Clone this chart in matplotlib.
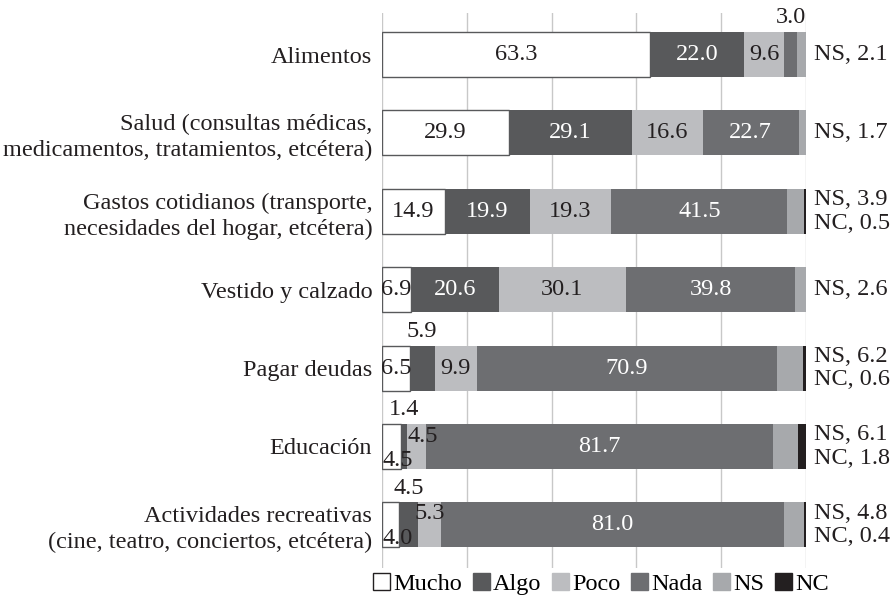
import matplotlib
matplotlib.use("Agg")
import matplotlib.pyplot as plt
from matplotlib.patches import Patch
import numpy as np

plt.rcParams["font.family"] = ["Liberation Serif", "DejaVu Serif"]

categories = [
    "Alimentos",
    "Salud (consultas médicas,\nmedicamentos, tratamientos, etcétera)",
    "Gastos cotidianos (transporte,\nnecesidades del hogar, etcétera)",
    "Vestido y calzado",
    "Pagar deudas",
    "Educación",
    "Actividades recreativas\n(cine, teatro, conciertos, etcétera)",
]
series = ["Mucho", "Algo", "Poco", "Nada", "NS", "NC"]

mucho = [63.3, 29.9, 14.9, 6.9, 6.5, 4.5, 4.0]
algo = [22.0, 29.1, 19.9, 20.6, 5.9, 1.4, 4.5]
poco = [9.6, 16.6, 19.3, 30.1, 9.9, 4.5, 5.3]
nada = [3.0, 22.7, 41.5, 39.8, 70.9, 81.7, 81.0]
ns = [2.1, 1.7, 3.9, 2.6, 6.2, 6.1, 4.8]
nc = [0.0, 0.0, 0.5, 0.0, 0.6, 1.8, 0.4]

colors = ["#ffffff", "#58595b", "#bcbdc0", "#6d6e71", "#a7a9ac", "#231f20"]
text_colors = ["#231f20", "#ffffff", "#231f20", "#ffffff", None, None]

FS = 17.5
values = np.array([mucho, algo, poco, nada, ns, nc])
n = len(categories)
y = np.arange(n)
bar_h = 0.575

fig = plt.figure(figsize=(8.96, 5.98), dpi=100)
ax = fig.add_axes([382 / 896, 1 - 568 / 598, 424 / 896, 555 / 598])

left = np.zeros(n)
for i, name in enumerate(series):
    ax.barh(y, values[i], left=left, height=bar_h, color=colors[i],
            edgecolor="#58595b" if i == 0 else "none",
            linewidth=1.0 if i == 0 else 0, zorder=3)
    left = left + values[i]

# label placement: (row, series) -> (mode, dy)
special = {
    (0, 3): ("above", 0),
    (4, 1): ("above", 0),
    (5, 1): ("above", 0),
    (6, 1): ("above", 0),
    (5, 0): ("left", 0.18),
    (5, 2): ("left", -0.13),
    (6, 0): ("left", 0.17),
    (6, 2): ("center", -0.14),
}

for r in range(n):
    start = 0.0
    for i in range(4):
        v = values[i][r]
        mode, dy = special.get((r, i), ("center", 0))
        if mode == "above":
            ax.text(start + v / 2, r - 0.47, f"{v:.1f}", ha="center",
                    va="center", fontsize=FS, color="#231f20", zorder=5)
        elif mode == "left":
            ax.text(start + 0.1, r + dy, f"{v:.1f}", ha="left",
                    va="center", fontsize=FS, color=text_colors[i], zorder=5)
        else:
            ax.text(start + v / 2, r + dy, f"{v:.1f}", ha="center",
                    va="center", fontsize=FS, color=text_colors[i], zorder=5)
        start += v
    # NS / NC labels on the right
    if nc[r] > 0:
        ax.text(101.9, r - 0.15, f"NS, {ns[r]:.1f}", ha="left", va="center",
                fontsize=FS, color="#231f20", clip_on=False)
        ax.text(101.9, r + 0.15, f"NC, {nc[r]:.1f}", ha="left", va="center",
                fontsize=FS, color="#231f20", clip_on=False)
    else:
        ax.text(101.9, r, f"NS, {ns[r]:.1f}", ha="left", va="center",
                fontsize=FS, color="#231f20", clip_on=False)

ax.set_xlim(0, 100)
ax.set_ylim(6.55, -0.53)
ax.set_xticks(np.arange(0, 101, 20))
ax.xaxis.grid(True, color="#c8c8c8", linewidth=1.0, zorder=0)
ax.tick_params(axis="x", length=0, labelbottom=False)
ax.set_yticks(y)
ax.set_yticklabels(categories, fontsize=FS, linespacing=1.3, color="#231f20")
ax.tick_params(axis="y", length=0, pad=7)
for s in ax.spines.values():
    s.set_visible(False)

handles = [Patch(facecolor=c, edgecolor="#231f20" if i == 0 else c, linewidth=1.0)
           for i, c in enumerate(colors)]
fig.legend(handles, series, loc="center", bbox_to_anchor=(601 / 896, 1 - 584 / 598),
           ncol=6, frameon=False, fontsize=FS, handlelength=0.7, handleheight=0.7,
           handletextpad=0.12, columnspacing=0.45, borderaxespad=0, borderpad=0)

fig.savefig("out.png", dpi=100)
